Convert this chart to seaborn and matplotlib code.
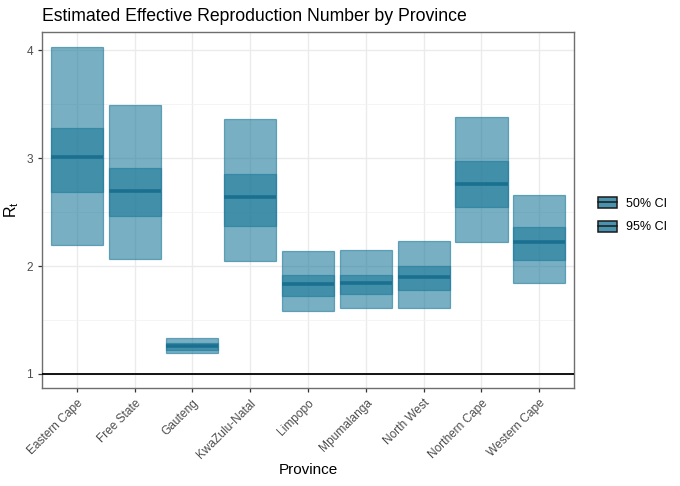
import numpy as np
import pandas as pd
import matplotlib
matplotlib.use("Agg")
import matplotlib.pyplot as plt
import seaborn as sns
from matplotlib.legend_handler import HandlerBase
from matplotlib.patches import Rectangle
from matplotlib.lines import Line2D
from matplotlib.ticker import MultipleLocator

provinces = ["Eastern Cape", "Free State", "Gauteng", "KwaZulu-Natal", "Limpopo",
             "Mpumalanga", "North West", "Northern Cape", "Western Cape"]
median = [3.01, 2.70, 1.26, 2.64, 1.83, 1.84, 1.90, 2.76, 2.22]
lo95 = [2.20, 2.07, 1.19, 2.05, 1.58, 1.61, 1.61, 2.22, 1.84]
hi95 = [4.03, 3.49, 1.33, 3.36, 2.14, 2.15, 2.23, 3.38, 2.66]
lo50 = [2.69, 2.46, 1.22, 2.37, 1.72, 1.74, 1.78, 2.55, 2.06]
hi50 = [3.28, 2.91, 1.29, 2.85, 1.92, 1.92, 2.00, 2.97, 2.36]

df = pd.DataFrame({"province": provinces, "median": median,
                   "lo95": lo95, "hi95": hi95, "lo50": lo50, "hi50": hi50})
df["h95"] = df["hi95"] - df["lo95"]
df["h50"] = df["hi50"] - df["lo50"]

base = "#1f7a9a"
fontfam = ["Liberation Sans", "DejaVu Sans"]
plt.rcParams["font.family"] = fontfam

fig = plt.figure(figsize=(6.8, 4.86), dpi=100)
ax = fig.add_axes([42/680, 1-388/486, (574-42)/680, (388-32)/486])
ax.set_facecolor("white")

sns.barplot(data=df, x="province", y="h95", bottom=df["lo95"].values, order=provinces,
            width=0.9, color=base, alpha=0.6, edgecolor=base, linewidth=0.9,
            saturation=1, ax=ax, zorder=2)
sns.barplot(data=df, x="province", y="h50", bottom=df["lo50"].values, order=provinces,
            width=0.9, color=base, alpha=0.6, edgecolor=base, linewidth=0.9,
            saturation=1, ax=ax, zorder=3)
xs = np.arange(len(provinces))
ax.hlines(df["median"], xs - 0.45, xs + 0.45, color="#1b7090", lw=2.6, zorder=4)
ax.axhline(1, color="black", lw=1.3, zorder=5)

ax.set_xlim(-0.6, 8.6)
ax.set_ylim(0.87, 4.17)
ax.yaxis.set_major_locator(MultipleLocator(1))
ax.yaxis.set_minor_locator(MultipleLocator(0.5))
ax.grid(which="major", color="#EBEBEB", lw=1.0, zorder=0)
ax.grid(which="minor", axis="y", color="#F2F2F2", lw=0.6, zorder=0)
ax.set_axisbelow(True)
for s in ax.spines.values():
    s.set_color("#6e6e6e")
    s.set_linewidth(1.0)
ax.tick_params(axis="both", which="major", length=3, color="#333333", width=0.9,
               labelsize=8.6, labelcolor="#4D4D4D")
ax.tick_params(axis="y", which="minor", length=0)
ax.set_xticks(xs)
ax.set_xticklabels(provinces, rotation=45, ha="right", va="top", rotation_mode="anchor")
ax.set_xlabel("Province", fontsize=11, labelpad=2)
ax.set_ylabel(r"$\mathregular{R_t}$", fontsize=11.5, labelpad=4)
ax.set_title("Estimated Effective Reproduction Number by Province", loc="left",
             fontsize=12.7, pad=8)


class CrossbarHandler(HandlerBase):
    def create_artists(self, legend, orig_handle, xdescent, ydescent, width, height,
                       fontsize, trans):
        r = Rectangle((-xdescent, -ydescent), width, height,
                      facecolor="#4a93ae", edgecolor="#1a1a1a", lw=1.1, transform=trans)
        l = Line2D([-xdescent, -xdescent + width], [-ydescent + height / 2] * 2,
                   color="#1a1a1a", lw=1.1, transform=trans)
        return [r, l]


handles = [Rectangle((0, 0), 1, 1), Rectangle((0, 0), 1, 1)]
fig.legend(handles, ["50% CI", "95% CI"], handler_map={Rectangle: CrossbarHandler()},
           loc="center left", bbox_to_anchor=(598/680, 1-215/486), frameon=False,
           fontsize=9, handlelength=1.5, handleheight=1.0, labelspacing=0.88,
           handletextpad=0.72, borderpad=0, borderaxespad=0)

fig.savefig("out.png", dpi=100)
